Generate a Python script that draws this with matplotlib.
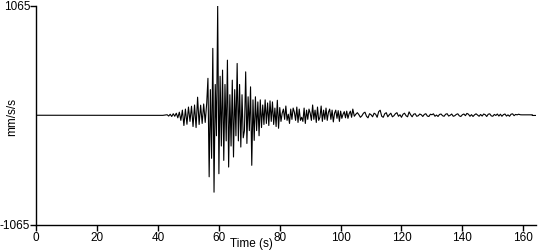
import numpy as np
from matplotlib import pyplot as plt

# amplitude values (mm/s/s), in sample order per segment
noise_start, noise_dt = 4.6, 1.0
noise = [1, -1, 1, -1, 1, -1, 1, -1, 1, -1, 1, -1, 1, -1, 1, -1, 1, -1, 1, -1,
         1, -1, 1, -1, 1, -1, 1, -1, 1, -1, 1, -1, 1, -1, 1, -1, 1, -1]

p_start, p_dt = 43.0, 0.5
p_wave = [5, -8, 10, -12, 15, -10, 20, -25, 30, -50, 50, -100, 60, -88,
          80, -60, 88, -110, 100, -120, 176, -90, 98, -80, 110, -70]

s_start, s_dt = 56.0, 0.4
s_wave = [120, 360, -600, 250, -420, 652, -750, 300, -200, 1065,
          -570, 380, -300, 440, -440, 300, -250, 537, -505, 200,
          -300, 342, -407, 250, -200, 505, -250, 300, -310, 200,
          -220, -150, 423, -275, 180, -150, 277, -488, 150, -245,
          180, -150, 130, -200, 150, -120, 100, -90, 150, -80,
          120, -100, 140, -60, 130, -90, 70, -110, 146, -127]

coda1_start, coda1_dt = 80.0, 0.4
coda1 = [75, -60, 20, 60, -40, 90, -50, 10, -80, 60,
         -40, 70, 30, -50, 80, -70, 60, -50, -20, -60,
         70, -80, 50, -40, 60, 20, -50, 100, -40, 50,
         -70, 80, -50, -20, 90, -60, 50, -40, 70, -50,
         30, 60, -40, 50, -65, 20, 50, -30, 45, -60,
         40, -30, 10, 35, -25, 40, -30, 15, 40, -20]

coda2_start, coda2_dt = 104.0, 0.5
coda2 = [60, -10, 10, 25, 5, -20, -5, 20, 30, -10, -25, 15, 5,
         -15, 20, 10, -20, 35, 49, -10, -20, 15, 25, -15, 5,
         20, -15, -5, 15, 25, -10, 5, -20, 10, 20, -5, -15,
         33, 5, -15, 10, 15, -10, -5, 12, 5, -12, 8, 15,
         -8, -12, 10, 5, 14, -10, 2, -12, 8, 12, -5, -10,
         10, 15, -8, 0, 12, -10, -5, 8, 14, -6, -12, 5,
         12, -4, 18, 10, -10, 6, -12, 4, 14, 2, -10, 8,
         -8, 12, 6, -12, 10, 14, -6, -10, 8, -2, 12, -8,
         10, -10, 6, 12, -8, 4, -10, 10, 14, -4, 8, 4, 10, 5]

tail_t = [159.5, 163.0, 163.0, 164.1]
tail = [4, 4, -2, -2]

x_max = 164.1
y_max = 1065
x_ticks = [0, 20, 40, 60, 80, 100, 120, 140, 160]
y_ticks = [-1065, 1065]


def seg_times(start, dt, values):
    return start + dt * np.arange(len(values))


t = np.concatenate([[0.0, noise_start],
                    seg_times(noise_start, noise_dt, noise),
                    seg_times(p_start, p_dt, p_wave),
                    seg_times(s_start, s_dt, s_wave),
                    seg_times(coda1_start, coda1_dt, coda1),
                    seg_times(coda2_start, coda2_dt, coda2),
                    tail_t])
a = np.concatenate([[0.0, 0.0], noise, p_wave, s_wave, coda1, coda2, tail])

plt.rcParams['font.family'] = ['Liberation Sans', 'DejaVu Sans']

fig = plt.figure(figsize=(5.5, 2.5), dpi=100)
ax = fig.add_axes([0.066, 0.102, 0.908, 0.874])

ax.plot(t, a, color='black', linewidth=0.8)

ax.set_xlim(0, x_max)
ax.set_ylim(-y_max, y_max)
ax.set_xticks(x_ticks)
ax.set_yticks(y_ticks)
ax.set_yticklabels([str(v) for v in y_ticks])
ax.tick_params(axis='both', labelsize=8.5, length=4, width=1, colors='black')
ax.tick_params(axis='y', pad=0.5)
ax.tick_params(axis='x', pad=1.5)

for side in ['top', 'right']:
    ax.spines[side].set_visible(False)
for side in ['left', 'bottom']:
    ax.spines[side].set_linewidth(1)

fig.text(12 / 550, 1 - 117 / 250, 'mm/s/s', fontsize=8.5, rotation=90,
         ha='center', va='center')
fig.text(251 / 550, 1 - 238 / 250, 'Time (s)', fontsize=8.5, ha='center', va='top')

plt.savefig('out.png', dpi=100)
